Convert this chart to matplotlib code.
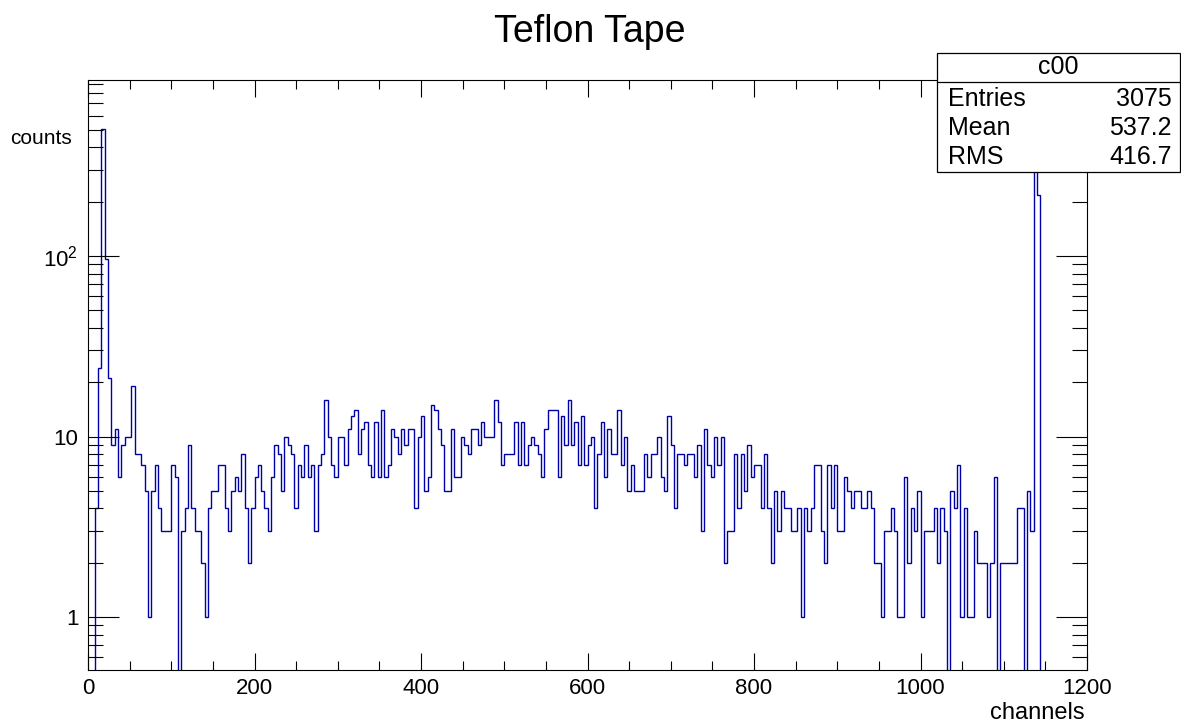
import numpy as np
import matplotlib
matplotlib.use("Agg")
import matplotlib.pyplot as plt
from matplotlib.ticker import FixedLocator, LogLocator, MultipleLocator, NullFormatter
from matplotlib.patches import Rectangle
from matplotlib.lines import Line2D

plt.rcParams['font.family'] = ['Liberation Sans', 'DejaVu Sans']

# histogram: 300 bins of 4 channels each, 0..1200
n_bins = 300
x_lo, x_hi = 0, 1200
counts = [
    0, 0, 4, 24, 505, 96, 21, 9, 11, 6, 9, 10, 10, 19, 8, 8, 7, 5, 1, 5,
    7, 4, 3, 3, 3, 7, 6, 0, 3, 4, 9, 4, 3,
    3, 2, 1, 4, 5, 5, 7, 7, 4, 3, 5, 6, 5, 8, 4, 2, 4, 6, 7, 5,
    4, 3, 6, 9, 8, 5, 10, 9, 8, 4, 7, 6, 9,
    6, 7, 3, 7, 8, 16, 10, 7, 6, 10, 10, 7, 11, 13, 14, 8, 11, 12, 7, 6,
    12, 6, 14, 6, 7, 11, 10, 8, 11, 9, 11, 11, 4,
    10, 13, 5, 6, 15, 14, 11, 9, 5, 5, 11, 6, 6, 10, 9, 8, 11, 11, 9, 12,
    10, 10, 10, 16, 12, 7, 8, 8, 8, 12, 7, 12, 7,
    9, 10, 9, 8, 6, 11, 14, 14, 14, 6, 13, 9, 16, 9, 12, 7, 13, 7, 9, 10,
    4, 8, 12, 6, 11, 8, 8, 14, 7, 10, 5, 7, 5,
    5, 5, 8, 6, 8, 8, 10, 6, 5, 13, 9, 4, 8, 8, 7, 8, 8, 6, 9, 3,
    11, 7, 6, 10, 7, 10, 2, 3, 3, 8, 4, 8, 5,
    9, 6, 7, 7, 4, 8, 4, 2, 5, 3, 5, 4, 4, 3, 3, 4, 1, 4, 3, 4,
    7, 7, 3, 2, 7, 4, 7, 3, 3, 6, 5, 4, 5,
    5, 4, 4, 5, 4, 2, 2, 1, 3, 3, 4, 3, 1, 1, 6, 2, 4, 3, 5, 1,
    3, 3, 3, 4, 2, 4, 3, 0, 5, 4, 7, 1, 4,
    1, 1, 3, 2, 2, 2, 1, 2, 6, 0, 2, 2, 2, 2, 2, 4, 4, 0, 5, 3,
    406, 218, 0, 0, 0, 0, 0, 0, 0, 0, 0, 0, 0, 0, 0, 0,
]

title = "Teflon Tape"
x_title = "channels"
y_title = "counts"
stats_name = "c00"
stats_rows = [("Entries", "3075"), ("Mean", "537.2"), ("RMS", "416.7")]
y_ticks = [1, 10, 100]
y_ticklabels = ["1", "10", r"$\mathregular{10^{2}}$"]

W, H = 1181, 725
fig = plt.figure(figsize=(W / 100, H / 100), dpi=100)
ax = fig.add_axes([88 / W, (H - 670) / H, 999 / W, 590 / H])

edges = np.linspace(x_lo, x_hi, n_bins + 1)
vals = np.array(counts, dtype=float)
ax.stairs(vals, edges, baseline=None, color="#0000a8", linewidth=1.0)

ax.set_yscale("log")
ax.set_xlim(x_lo, x_hi)
ax.set_ylim(0.51, 944)

ax.xaxis.set_major_locator(MultipleLocator(200))
ax.xaxis.set_minor_locator(MultipleLocator(50))
ax.yaxis.set_major_locator(FixedLocator(y_ticks))
ax.set_yticklabels(y_ticklabels)
ax.yaxis.set_minor_locator(LogLocator(base=10, subs=np.arange(2, 10)))
ax.yaxis.set_minor_formatter(NullFormatter())

for s in ax.spines.values():
    s.set_linewidth(0.8)
ax.tick_params(which="both", direction="in", top=True, right=True, width=0.8,
               labelsize=16, colors="black")
ax.tick_params(axis="x", which="major", length=12.5, pad=6)
ax.tick_params(axis="x", which="minor", length=6.5)
ax.tick_params(axis="y", which="major", length=22, pad=7)
ax.tick_params(axis="y", which="minor", length=11)

fig.text(590 / W, 1 - 32 / H, title, ha="center", va="center", fontsize=27)
fig.text(1085 / W, 1 - 713 / H, x_title, ha="right", va="center", fontsize=17)
fig.text(10 / W, 1 - 138 / H, y_title, ha="left", va="center", fontsize=15)

# stats box
bx0, bx1, by0, by1, bdiv = 937, 1180, 53, 172, 82
fig.patches.append(Rectangle((bx0 / W, 1 - by1 / H), (bx1 - bx0) / W, (by1 - by0) / H,
                             transform=fig.transFigure, facecolor="white",
                             edgecolor="black", linewidth=0.9, zorder=5))
fig.lines.append(Line2D([bx0 / W, bx1 / W], [1 - bdiv / H, 1 - bdiv / H],
                        transform=fig.transFigure, color="black", linewidth=0.9, zorder=6))
fig.text((bx0 + bx1) / 2 / W, 1 - 67 / H, stats_name, ha="center", va="center",
         fontsize=18, zorder=7)
for i, (name, val) in enumerate(stats_rows):
    yy = 1 - (99 + 29 * i) / H
    fig.text(948 / W, yy, name, ha="left", va="center", fontsize=18, zorder=7)
    fig.text(1172 / W, yy, val, ha="right", va="center", fontsize=18, zorder=7)

fig.savefig("out.png", dpi=100)
